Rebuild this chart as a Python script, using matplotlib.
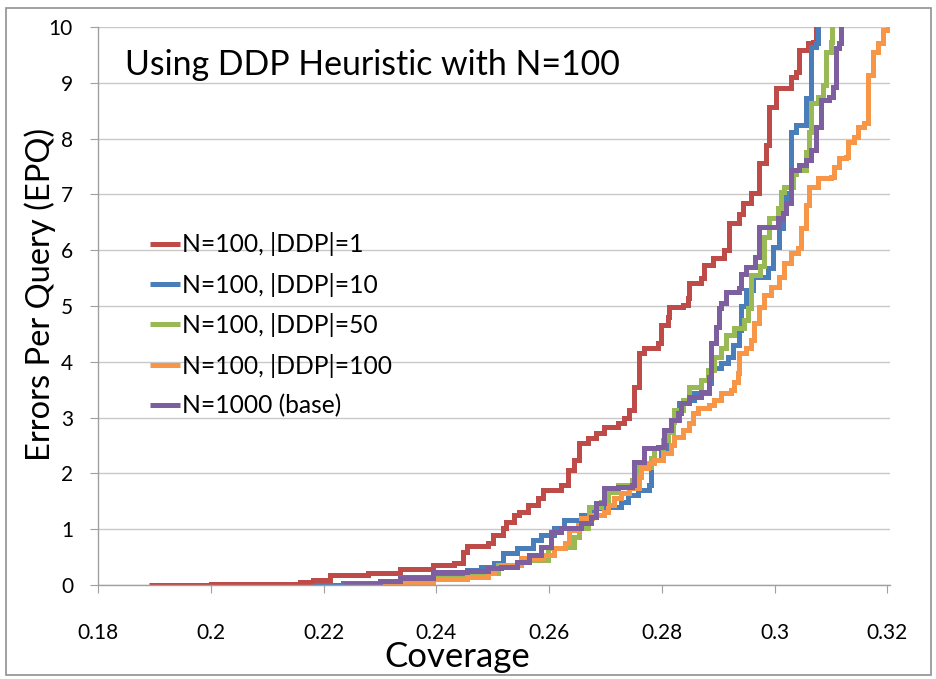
import matplotlib
matplotlib.use("Agg")
import matplotlib.pyplot as plt
from matplotlib.patches import Rectangle

plt.rcParams['font.family'] = ['Lato', 'DejaVu Sans']

labels = ["N=100, |DDP|=1", "N=100, |DDP|=10", "N=100, |DDP|=50",
          "N=100, |DDP|=100", "N=1000 (base)"]
colors = ["#BE4B48", "#4A7EBB", "#98B954", "#F79646", "#7D5FA0"]

red_x = [0.189, 0.200, 0.210, 0.2159, 0.2182, 0.2212, 0.2278, 0.2336, 0.2395, 0.2431,
         0.2448, 0.2455, 0.2491, 0.2500, 0.2519, 0.2523, 0.2537, 0.2546, 0.2562, 0.2580,
         0.2589, 0.2621, 0.2633, 0.2644, 0.2653, 0.2669, 0.2683, 0.2697, 0.2722, 0.2733,
         0.2741, 0.2750, 0.2759, 0.2768, 0.2793, 0.2798, 0.2811, 0.2812, 0.2837, 0.2846,
         0.2848, 0.2869, 0.2875, 0.2891, 0.2910, 0.2919, 0.2937, 0.2944, 0.2958, 0.2972,
         0.2985, 0.2990, 0.3002, 0.3029, 0.3038, 0.3043, 0.3059, 0.3068, 0.3074]
red_y = [0.00, 0.01, 0.02, 0.05, 0.09, 0.18, 0.22, 0.29, 0.36, 0.39,
         0.59, 0.70, 0.75, 0.90, 1.02, 1.13, 1.25, 1.30, 1.43, 1.56,
         1.70, 1.79, 2.06, 2.24, 2.54, 2.63, 2.72, 2.83, 2.90, 2.99,
         3.14, 3.55, 4.16, 4.25, 4.34, 4.66, 4.80, 4.99, 5.02, 5.14,
         5.41, 5.50, 5.73, 5.86, 6.00, 6.49, 6.65, 6.84, 7.03, 7.56,
         7.89, 8.57, 8.91, 9.10, 9.19, 9.59, 9.71, 9.73, 10.20]

blue_x = [0.2182, 0.2235, 0.2336, 0.2395, 0.2455, 0.2479, 0.2502, 0.2519, 0.2544, 0.2571,
          0.2585, 0.2608, 0.2626, 0.2656, 0.2674, 0.2697, 0.2727, 0.2740, 0.2757, 0.2777,
          0.2780, 0.2798, 0.2807, 0.2820, 0.2830, 0.2839, 0.2857, 0.2883, 0.2887, 0.2905,
          0.2917, 0.2926, 0.2937, 0.2940, 0.2949, 0.2962, 0.2988, 0.2997, 0.3008, 0.3015,
          0.3020, 0.3029, 0.3038, 0.3056, 0.3065, 0.3074, 0.3077]
blue_y = [0.00, 0.03, 0.14, 0.20, 0.27, 0.32, 0.39, 0.57, 0.66, 0.81,
          0.90, 1.02, 1.16, 1.25, 1.38, 1.40, 1.49, 1.61, 1.70, 1.79,
          2.24, 2.45, 2.78, 2.96, 3.26, 3.32, 3.44, 3.62, 3.89, 3.98,
          4.09, 4.30, 4.57, 5.00, 5.29, 5.52, 5.68, 6.06, 6.40, 6.70,
          7.03, 8.12, 8.24, 8.73, 9.64, 9.71, 10.20]

green_x = [0.2290, 0.2336, 0.2395, 0.2455, 0.2491, 0.2509, 0.2550, 0.2598, 0.2599, 0.2629,
           0.2644, 0.2653, 0.2669, 0.2670, 0.2692, 0.2704, 0.2722, 0.2748, 0.2757, 0.2780,
           0.2786, 0.2802, 0.2811, 0.2820, 0.2821, 0.2837, 0.2848, 0.2869, 0.2882, 0.2892,
           0.2905, 0.2914, 0.2928, 0.2946, 0.2953, 0.2958, 0.2974, 0.2981, 0.2990, 0.3006,
           0.3011, 0.3017, 0.3033, 0.3038, 0.3056, 0.3061, 0.3065, 0.3077, 0.3086, 0.3091,
           0.3100, 0.3101]
green_y = [0.00, 0.08, 0.13, 0.16, 0.22, 0.36, 0.45, 0.54, 0.66, 0.68,
           0.86, 1.02, 1.13, 1.40, 1.49, 1.67, 1.79, 1.88, 2.11, 2.27,
           2.45, 2.60, 2.74, 2.92, 3.14, 3.32, 3.55, 3.67, 3.85, 4.09,
           4.25, 4.48, 4.61, 4.75, 4.96, 5.55, 5.72, 6.24, 6.58, 6.76,
           7.05, 7.13, 7.37, 7.44, 7.76, 8.12, 8.64, 8.75, 8.96, 9.55,
           9.73, 10.20]

orange_x = [0.2296, 0.2336, 0.2395, 0.2455, 0.2491, 0.2502, 0.2514, 0.2550, 0.2590, 0.2608,
            0.2629, 0.2635, 0.2651, 0.2656, 0.2677, 0.2697, 0.2704, 0.2715, 0.2727, 0.2741,
            0.2759, 0.2763, 0.2775, 0.2786, 0.2802, 0.2816, 0.2821, 0.2837, 0.2848, 0.2855,
            0.2864, 0.2883, 0.2892, 0.2905, 0.2923, 0.2928, 0.2935, 0.2937, 0.2949, 0.2958,
            0.2963, 0.2972, 0.2981, 0.2994, 0.3008, 0.3017, 0.3029, 0.3042, 0.3047, 0.3056,
            0.3061, 0.3077, 0.3100, 0.3105, 0.3114, 0.3127, 0.3130, 0.3141, 0.3148, 0.3159,
            0.3166, 0.3175, 0.3184, 0.3193, 0.3201]
orange_y = [0.00, 0.05, 0.10, 0.14, 0.22, 0.30, 0.36, 0.48, 0.54, 0.66,
            0.75, 0.99, 1.08, 1.20, 1.25, 1.31, 1.43, 1.56, 1.65, 1.74,
            1.94, 2.09, 2.18, 2.24, 2.37, 2.51, 2.65, 2.78, 2.90, 3.08,
            3.17, 3.23, 3.32, 3.44, 3.49, 3.64, 3.80, 4.16, 4.25, 4.39,
            4.70, 4.99, 5.20, 5.34, 5.52, 5.77, 5.95, 6.04, 6.40, 6.81,
            7.13, 7.29, 7.31, 7.49, 7.65, 7.67, 7.94, 8.03, 8.21, 8.28,
            9.14, 9.55, 9.71, 9.95, 10.20]

purple_x = [0.2235, 0.2300, 0.2336, 0.2395, 0.2455, 0.2491, 0.2514, 0.2544, 0.2564, 0.2585,
            0.2603, 0.2621, 0.2656, 0.2674, 0.2683, 0.2697, 0.2722, 0.2748, 0.2750, 0.2768,
            0.2793, 0.2804, 0.2816, 0.2828, 0.2834, 0.2848, 0.2869, 0.2883, 0.2887, 0.2896,
            0.2901, 0.2905, 0.2914, 0.2937, 0.2940, 0.2949, 0.2965, 0.2972, 0.3006, 0.3015,
            0.3020, 0.3029, 0.3043, 0.3056, 0.3065, 0.3074, 0.3082, 0.3097, 0.3104, 0.3109,
            0.3114, 0.3118]
purple_y = [0.02, 0.08, 0.12, 0.23, 0.26, 0.30, 0.32, 0.41, 0.54, 0.68,
            0.95, 1.02, 1.11, 1.22, 1.47, 1.74, 1.76, 1.79, 2.20, 2.45,
            2.47, 2.78, 2.96, 3.08, 3.26, 3.37, 3.46, 3.73, 4.34, 4.63,
            4.96, 5.05, 5.26, 5.32, 5.58, 5.70, 5.88, 6.42, 6.58, 6.67,
            6.85, 7.44, 7.53, 7.62, 7.80, 8.21, 8.69, 8.75, 8.93, 9.62,
            9.71, 10.20]

series_x = [red_x, blue_x, green_x, orange_x, purple_x]
series_y = [red_y, blue_y, green_y, orange_y, purple_y]

x_ticks = [0.18, 0.20, 0.22, 0.24, 0.26, 0.28, 0.30, 0.32]
x_tick_labels = ["0.18", "0.2", "0.22", "0.24", "0.26", "0.28", "0.3", "0.32"]
y_ticks = list(range(0, 11))

fig = plt.figure(figsize=(9.37, 6.79), dpi=100)
ax = fig.add_axes([0.1046, 0.1384, 0.8454, 0.8218])

for xs, ys, c, lab in zip(series_x, series_y, colors, labels):
    ax.step(xs, ys, where='post', color=c, lw=3.6, label=lab,
            solid_joinstyle='miter', solid_capstyle='butt')

ax.set_xlim(0.18, 0.3205)
ax.set_ylim(0, 10)
ax.set_xticks(x_ticks)
ax.set_xticklabels(x_tick_labels)
ax.set_yticks(y_ticks)
ax.yaxis.grid(True, color='#C8C8C8', lw=1.0)
ax.set_axisbelow(True)
for s in ['top', 'right']:
    ax.spines[s].set_visible(False)
for s in ['left', 'bottom']:
    ax.spines[s].set_color('#A0A0A0')
    ax.spines[s].set_linewidth(1.0)
ax.tick_params(axis='both', direction='out', length=6, color='#A0A0A0',
               labelsize=15)
ax.tick_params(axis='y', pad=12)
ax.tick_params(axis='x', pad=21)

ax.set_xlabel("Coverage", fontsize=25)
ax.xaxis.set_label_coords(0.454, -0.129)
ax.xaxis.label.set_va('center')
ax.set_ylabel("Errors Per Query (EPQ)", fontsize=23.5)
ax.yaxis.set_label_coords(-0.0736, 0.52)
ax.yaxis.label.set_va('center')

ax.text(0.034, 0.932, "Using DDP Heuristic with N=100", transform=ax.transAxes,
        fontsize=24.4, ha='left', va='center')

leg = ax.legend(loc='upper left', bbox_to_anchor=(0.053, 0.650), frameon=False,
                fontsize=17.7, handlelength=1.22, handletextpad=0.08,
                labelspacing=0.67, borderaxespad=0)

fig.patches.append(Rectangle((0.006, 0.006), 0.988, 0.982, transform=fig.transFigure,
                             fill=False, edgecolor='#909090', lw=1.2))

fig.savefig("out.png", dpi=100)
